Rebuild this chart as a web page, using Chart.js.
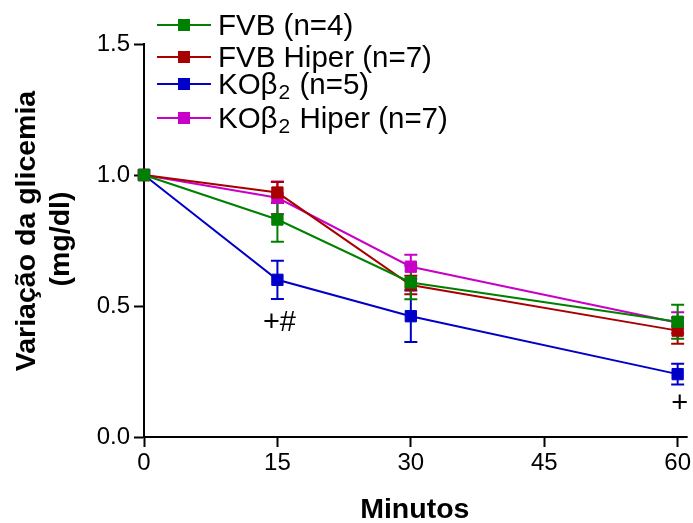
<!DOCTYPE html>
<html><head><meta charset="utf-8">
<script src="https://cdn.jsdelivr.net/npm/chart.js@4.4.1/dist/chart.umd.min.js"></script>
<style>html,body{margin:0;padding:0;background:#fff}#wrap{width:693px;height:523px;position:relative}</style>
</head><body><div id="wrap"><canvas id="c" width="693" height="523"></canvas></div>
<script>
// ---- data ----
const minutes = [0, 15, 30, 60];
const seriesNames = ['FVB (n=4)', 'FVB Hiper (n=7)', 'KOβ₂ (n=5)', 'KOβ₂ Hiper (n=7)'];
const fvb = [1.0, 0.83, 0.59, 0.44];
const fvbErr = [0, 0.085, 0.064, 0.065];
const fvbHiper = [1.0, 0.933, 0.58, 0.406];
const fvbHiperErr = [0, 0.04, 0.035, 0.05];
const kob2 = [1.0, 0.60, 0.461, 0.24];
const kob2Err = [0, 0.073, 0.098, 0.04];
const kob2Hiper = [1.0, 0.913, 0.65, 0.436];
const kob2HiperErr = [0, 0.062, 0.046, 0.04];
const seriesColors = ['#008000', '#a80000', '#0000c8', '#c800c8'];
const xTicks = [0, 15, 30, 45, 60];
const yTicks = [0, 0.5, 1.0, 1.5];
const xTitle = 'Minutos';
const yTitle = ['Variação da glicemia', '(mg/dl)'];
const markText = ['+#', '+'];
const markX = [15, 60];
const markY = [0.435, 0.126];

const FONT = "'Liberation Sans', Arial, sans-serif";
Chart.defaults.font.family = FONT;
Chart.defaults.color = '#000';

const allMeans = [fvb, fvbHiper, kob2, kob2Hiper];
const allErrs = [fvbErr, fvbHiperErr, kob2Err, kob2HiperErr];

const datasets = allMeans.map((vals, i) => ({
  label: seriesNames[i],
  data: minutes.map((m, j) => ({x: m, y: vals[j]})),
  borderColor: seriesColors[i],
  backgroundColor: seriesColors[i],
  pointBackgroundColor: seriesColors[i],
  pointBorderColor: seriesColors[i],
  borderWidth: 2,
  pointStyle: 'rect',
  pointRadius: 8,
  pointBorderWidth: 1,
  tension: 0,
  clip: false,
  errors: allErrs[i]
}));

const errorBars = {
  id: 'errorBars',
  beforeDatasetsDraw(chart) {
    const ctx = chart.ctx, xs = chart.scales.x, ys = chart.scales.y;
    for (let i = chart.data.datasets.length - 1; i >= 0; i--) {
      const ds = chart.data.datasets[i];
      ctx.save();
      ctx.strokeStyle = ds.borderColor; ctx.lineWidth = 2;
      ds.data.forEach((p, j) => {
        const e = ds.errors[j]; if (!e) return;
        const x = xs.getPixelForValue(p.x);
        const y1 = ys.getPixelForValue(p.y + e), y2 = ys.getPixelForValue(p.y - e);
        ctx.beginPath();
        ctx.moveTo(x, y1); ctx.lineTo(x, y2);
        ctx.moveTo(x - 6.5, y1); ctx.lineTo(x + 6.5, y1);
        ctx.moveTo(x - 6.5, y2); ctx.lineTo(x + 6.5, y2);
        ctx.stroke();
      });
      ctx.restore();
    }
  }
};

const extras = {
  id: 'extras',
  afterDraw(chart) {
    const ctx = chart.ctx, xs = chart.scales.x, ys = chart.scales.y, area = chart.chartArea;
    ctx.save();
    // x axis line extension past last tick
    ctx.strokeStyle = '#000'; ctx.lineWidth = 2;
    ctx.beginPath(); ctx.moveTo(area.right - 1, area.bottom); ctx.lineTo(area.right + 10, area.bottom); ctx.stroke();
    // annotations
    ctx.fillStyle = '#000';
    ctx.font = '29px ' + FONT;
    ctx.textAlign = 'center'; ctx.textBaseline = 'middle';
    markText.forEach((t, i) => ctx.fillText(t, xs.getPixelForValue(markX[i]) + 2, ys.getPixelForValue(markY[i])));
    // axis titles
    ctx.font = 'bold 28.5px ' + FONT;
    ctx.textBaseline = 'alphabetic';
    ctx.fillText(xTitle, (area.left + area.right) / 2 + 4, 518);
    ctx.save();
    ctx.rotate(-Math.PI / 2);
    ctx.fillText(yTitle[0], -231, 35);
    ctx.fillText(yTitle[1], -239, 69);
    ctx.restore();
    // legend
    const rowY = [25, 57, 84, 118];
    seriesNames.forEach((name, i) => {
      const y = rowY[i];
      ctx.strokeStyle = seriesColors[i]; ctx.lineWidth = 2;
      ctx.beginPath(); ctx.moveTo(157, y); ctx.lineTo(211, y); ctx.stroke();
      ctx.fillStyle = seriesColors[i];
      ctx.fillRect(184 - 6, y - 6, 12, 12);
      ctx.fillStyle = '#000';
      ctx.textAlign = 'left'; ctx.textBaseline = 'alphabetic';
      const base = y + 10;
      const parts = name.split('₂');
      let x = 218;
      ctx.font = '29.5px ' + FONT;
      ctx.fillText(parts[0], x, base);
      x += ctx.measureText(parts[0]).width;
      if (parts.length > 1) {
        ctx.font = '21px ' + FONT;
        ctx.fillText('2', x + 1, base + 5);
        x += ctx.measureText('2').width + 2;
        ctx.font = '29.5px ' + FONT;
        ctx.fillText(parts[1], x, base);
      }
    });
    ctx.restore();
  }
};

new Chart(document.getElementById('c'), {
  type: 'line',
  data: {datasets},
  options: {
    responsive: false,
    animation: false,
    layout: {padding: {left: 0, top: 44, right: 13, bottom: 0}},
    plugins: {legend: {display: false}, tooltip: {enabled: false}},
    scales: {
      x: {
        type: 'linear', min: 0, max: 60,
        afterBuildTicks: s => { s.ticks = xTicks.map(v => ({value: v})); },
        afterFit: s => { s.height = 86; },
        grid: {drawOnChartArea: false, drawTicks: true, tickLength: 10, tickWidth: 2, tickColor: '#000'},
        border: {display: true, color: '#000', width: 2},
        ticks: {font: {size: 24}, color: '#000', padding: 2, maxRotation: 0}
      },
      y: {
        type: 'linear', min: 0, max: 1.5,
        afterBuildTicks: s => { s.ticks = yTicks.map(v => ({value: v})); },
        afterFit: s => { s.width = 144; },
        grid: {drawOnChartArea: false, drawTicks: true, tickLength: 10, tickWidth: 2, tickColor: '#000'},
        border: {display: true, color: '#000', width: 2},
        ticks: {font: {size: 24}, color: '#000', padding: 4, callback: v => v.toFixed(1)}
      }
    }
  },
  plugins: [errorBars, extras]
});
</script>
</body></html>
